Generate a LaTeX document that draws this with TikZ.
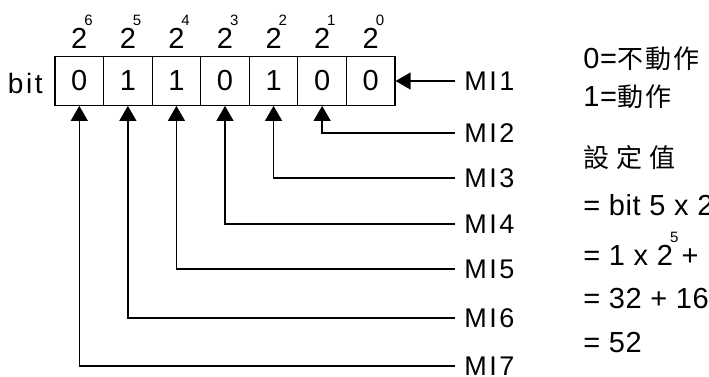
\documentclass[tikz,border=0pt]{standalone}
\usepackage{fontspec}
\setmainfont[LetterSpace=2]{Liberation Sans}
\newfontfamily\milab[LetterSpace=9]{Liberation Sans}
\newfontfamily\cjk{Noto Sans CJK TC}
\usetikzlibrary{arrows.meta}

% exponent set high above the base, taking no width
\newcommand{\hisup}[1]{\rlap{\smash{\kern-1.5pt\raisebox{0.78em}{\fontsize{7.5pt}{8pt}\selectfont #1}}}}

\begin{document}
\begin{tikzpicture}[x=0.5pt, y=-0.5pt,
  cellbox/.style={draw, line width=0.6pt, minimum width=24.29pt, minimum height=24.3pt,
    inner sep=0pt, font=\fontsize{14.5pt}{16pt}\selectfont},
  power/.style={anchor=base, inner sep=0pt, font=\fontsize{14.5pt}{16pt}\selectfont},
  milabel/.style={anchor=west, inner xsep=4.5pt, inner ysep=0pt,
    font=\milab\fontsize{13.5pt}{16pt}\selectfont},
  txt/.style={anchor=base west, inner sep=0pt, font=\fontsize{14.5pt}{17pt}\selectfont},
  arr/.style={line width=0.65pt, -{Triangle[length=7.5pt,width=8.5pt]}}]
  \useasboundingbox (0,0) rectangle (709,376);
  \clip (0,0) rectangle (709,376);
  % bit cells with their weights
  \foreach \v [count=\i from 0] in {0,1,1,0,1,0,0} {
    \pgfmathtruncatemacro\p{6-\i}
    \node[cellbox] (c\p) at ({55+48.57*(\i+0.5)},81) {\v};
    \node[power] (p\p) at ({55+48.57*(\i+0.5)},48) {2\hisup{\p}};
  }
  \node[anchor=base east, inner sep=0pt, font=\milab\fontsize{14pt}{16pt}\selectfont] (bit) at (43,93) {bit};
  % inputs
  \node[milabel] (mi1) at (455,81) {MI1};
  \draw[arr] (mi1.west) -- (c0.east);
  \foreach \k/\yy in {2/133,3/178,4/224,5/269,6/318,7/366} {
    \pgfmathtruncatemacro\b{\k-1}
    \node[milabel] (mi\k) at (455,\yy) {MI\k};
    \draw[arr] (mi\k.west) -| (c\b.south);
  }
  % legend and setting value
  \node[txt] (t1) at (583,68) {0=\cjk\fontsize{13pt}{15pt}\selectfont 不\kern1pt 動\kern1pt 作};
  \node[txt] (t2) at (583,106) {1=\cjk\fontsize{13pt}{15pt}\selectfont 動\kern1pt 作};
  \node[txt] (t3) at (583,167) {\cjk\fontsize{13pt}{15pt}\selectfont 設\kern3.5pt 定\kern3.5pt 值};
  \node[txt] (t4) at (583,215) {= bit 5 x 2\hisup{5} + bit 4 x 2\hisup{4} + bit 2 x 2\hisup{2}};
  \node[txt] (t5) at (583,265) {= 1 x 2\hisup{5} + 1 x 2\hisup{4} + 1 x 2\hisup{2}};
  \node[txt] (t6) at (583,308) {= 32 + 16 + 4};
  \node[txt] (t7) at (583,352) {= 52};
\end{tikzpicture}
\end{document}
